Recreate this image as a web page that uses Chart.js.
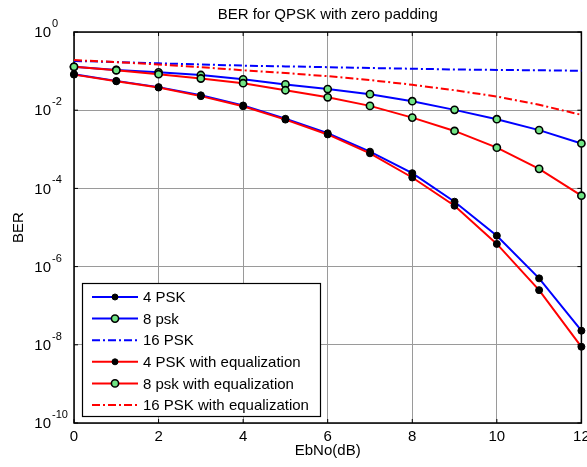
<!DOCTYPE html>
<html lang="en">
<head>
<meta charset="UTF-8">
<title>BER for QPSK with zero padding</title>
<style>
    html, body { margin: 0; padding: 0; background: #fff; }
    #wrap { width: 587px; height: 467px; }
</style>
</head>
<body>
<div id="wrap"><canvas id="berChart" width="587" height="467"></canvas></div>

<script src="https://cdn.jsdelivr.net/npm/chart.js"></script>
<script>
    // values
    const ebno = [0, 1, 2, 3, 4, 5, 6, 7, 8, 9, 10, 11, 12];
    const ber4psk = [0.0832, 0.0562, 0.0389, 0.0240, 0.0132, 0.00603, 0.00257, 8.7e-4, 2.45e-4, 4.57e-5, 6.17e-6, 5.0e-7, 2.29e-8];
    const ber8psk = [0.129, 0.107, 0.0933, 0.0794, 0.0617, 0.0457, 0.0347, 0.0257, 0.0170, 0.0102, 0.00589, 0.00309, 0.00141];
    const ber16psk = [0.182, 0.170, 0.158, 0.148, 0.138, 0.132, 0.126, 0.120, 0.115, 0.110, 0.107, 0.105, 0.102];
    const ber4pskEq = [0.0813, 0.0550, 0.0380, 0.0229, 0.0126, 0.00575, 0.00240, 7.9e-4, 1.9e-4, 3.6e-5, 3.8e-6, 2.5e-7, 8.9e-9];
    const ber8pskEq = [0.129, 0.105, 0.0832, 0.0646, 0.0490, 0.0324, 0.0214, 0.0129, 0.00646, 0.00295, 0.00110, 3.16e-4, 6.5e-5];
    const ber16pskEq = [0.191, 0.170, 0.148, 0.126, 0.105, 0.0891, 0.0741, 0.0589, 0.0447, 0.0324, 0.0224, 0.0138, 0.0076];
    const seriesNames = ['4 PSK', '8 psk', '16 PSK', '4 PSK with equalization', '8 psk with equalization', '16 PSK with equalization'];
    const xTicks = [0, 2, 4, 6, 8, 10, 12];
    const yTicks = [1e-10, 1e-8, 1e-6, 1e-4, 1e-2, 1];

    const FONT = "'Liberation Sans', Arial, Helvetica, sans-serif";
    const BLUE = '#0000ff';
    const RED = '#ff0000';
    const GREEN = 'rgb(112,228,132)';
    const DASHDOT = [8, 3, 2, 3];

    function pts(ys) {
        return ebno.map((x, i) => ({ x: x, y: ys[i] }));
    }

    function dotSeries(label, ys, color, order) {
        return {
            label, data: pts(ys), borderColor: color, borderWidth: 2,
            pointRadius: 3.5, pointBackgroundColor: '#000', pointBorderColor: '#000', pointBorderWidth: 1,
            order, clip: false, tension: 0
        };
    }
    function circleSeries(label, ys, color, order) {
        return {
            label, data: pts(ys), borderColor: color, borderWidth: 2,
            pointRadius: 3.6, pointBackgroundColor: GREEN, pointBorderColor: '#000', pointBorderWidth: 1.6,
            order, clip: false, tension: 0
        };
    }
    function dashSeries(label, ys, color, order) {
        return {
            label, data: pts(ys), borderColor: color, borderWidth: 2, borderDash: DASHDOT,
            pointRadius: 0, order, clip: false, tension: 0
        };
    }

    // axes box + inward tick marks, drawn under the lines
    const boxPlugin = {
        id: 'box',
        beforeDatasetsDraw(chart) {
            const { ctx, chartArea: a, scales } = chart;
            ctx.save();
            ctx.strokeStyle = '#000';
            ctx.lineWidth = 1;
            xTicks.forEach(v => {
                const x = scales.x.getPixelForValue(v);
                ctx.beginPath();
                ctx.moveTo(x, a.bottom); ctx.lineTo(x, a.bottom - 4);
                ctx.moveTo(x, a.top); ctx.lineTo(x, a.top + 4);
                ctx.stroke();
            });
            yTicks.forEach(v => {
                const y = scales.y.getPixelForValue(v);
                ctx.beginPath();
                ctx.moveTo(a.left, y); ctx.lineTo(a.left + 4, y);
                ctx.moveTo(a.right, y); ctx.lineTo(a.right - 4, y);
                ctx.stroke();
            });
            ctx.lineWidth = 1.5;
            ctx.strokeRect(a.left, a.top, a.right - a.left, a.bottom - a.top);
            ctx.restore();
        }
    };

    // 10^n tick labels with raised exponent
    const powerLabels = {
        id: 'powerLabels',
        afterDraw(chart) {
            const { ctx, scales } = chart;
            ctx.save();
            ctx.fillStyle = '#000';
            ctx.textBaseline = 'middle';
            yTicks.forEach(v => {
                const y = scales.y.getPixelForValue(v);
                const e = Math.round(Math.log10(v));
                ctx.font = '15px ' + FONT;
                ctx.textAlign = 'right';
                ctx.fillText('10', 51, y + 1);
                ctx.font = '11px ' + FONT;
                ctx.textAlign = 'left';
                ctx.fillText(String(e), 52, y - 8);
            });
            ctx.restore();
        }
    };

    // legend box inside the axes, lower left
    const insideLegend = {
        id: 'insideLegend',
        afterDraw(chart) {
            const { ctx } = chart;
            const bx = 82.5, by = 283.5, bw = 238, bh = 133;
            ctx.save();
            ctx.fillStyle = '#fff';
            ctx.fillRect(bx, by, bw, bh);
            ctx.strokeStyle = '#000';
            ctx.lineWidth = 1.2;
            ctx.strokeRect(bx, by, bw, bh);
            seriesNames.forEach((name, i) => {
                const ds = chart.data.datasets[i];
                const y = 297 + i * 21.6;
                ctx.strokeStyle = ds.borderColor;
                ctx.lineWidth = 2;
                ctx.setLineDash(ds.borderDash || []);
                ctx.beginPath();
                ctx.moveTo(92, y); ctx.lineTo(138, y);
                ctx.stroke();
                ctx.setLineDash([]);
                if (ds.pointRadius > 0) {
                    ctx.beginPath();
                    ctx.arc(115, y, ds.pointBackgroundColor === '#000' ? 3 : 3.6, 0, Math.PI * 2);
                    ctx.fillStyle = ds.pointBackgroundColor;
                    ctx.fill();
                    ctx.lineWidth = ds.pointBorderWidth;
                    ctx.strokeStyle = ds.pointBorderColor;
                    ctx.stroke();
                }
                ctx.fillStyle = '#000';
                ctx.font = '15px ' + FONT;
                ctx.textAlign = 'left';
                ctx.textBaseline = 'middle';
                ctx.fillText(name, 143, y + 1);
            });
            ctx.restore();
        }
    };

    new Chart(document.getElementById('berChart'), {
        type: 'line',
        data: {
            datasets: [
                dotSeries(seriesNames[0], ber4psk, BLUE, 2),
                circleSeries(seriesNames[1], ber8psk, BLUE, 2),
                dashSeries(seriesNames[2], ber16psk, BLUE, 2),
                dotSeries(seriesNames[3], ber4pskEq, RED, 1),
                circleSeries(seriesNames[4], ber8pskEq, RED, 1),
                dashSeries(seriesNames[5], ber16pskEq, RED, 1)
            ]
        },
        options: {
            responsive: false,
            animation: false,
            devicePixelRatio: 1,
            layout: { padding: { left: 0, right: 5, top: 0, bottom: 0 } },
            plugins: {
                legend: { display: false },
                tooltip: { enabled: false },
                title: {
                    display: true,
                    text: 'BER for QPSK with zero padding',
                    fullSize: false,
                    color: '#000',
                    font: { family: FONT, size: 15, weight: 'normal' },
                    padding: { top: 6, bottom: 8 }
                }
            },
            scales: {
                x: {
                    type: 'linear',
                    min: 0,
                    max: 12,
                    afterBuildTicks: s => { s.ticks = xTicks.map(v => ({ value: v })); },
                    afterFit: s => { s.height = 44; s.paddingLeft = 0; s.paddingRight = 0; },
                    ticks: { color: '#000', font: { family: FONT, size: 15 }, padding: 5, maxRotation: 0, autoSkip: false },
                    grid: { color: '#9a9a9a', lineWidth: 1, drawTicks: false },
                    border: { display: false },
                    title: {
                        display: true, text: 'EbNo(dB)', color: '#000',
                        font: { family: FONT, size: 15 }, padding: { top: 0, bottom: 7 }
                    }
                },
                y: {
                    type: 'logarithmic',
                    min: 1e-10,
                    max: 1,
                    afterBuildTicks: s => { s.ticks = yTicks.map(v => ({ value: v })); },
                    afterFit: s => { s.width = 74; },
                    ticks: { display: false },
                    grid: { color: '#9a9a9a', lineWidth: 1, drawTicks: false },
                    border: { display: false },
                    title: {
                        display: true, text: 'BER', color: '#000',
                        font: { family: FONT, size: 15 }, padding: { top: 10, bottom: 0 }
                    }
                }
            }
        },
        plugins: [boxPlugin, powerLabels, insideLegend]
    });
</script>
</body>
</html>
